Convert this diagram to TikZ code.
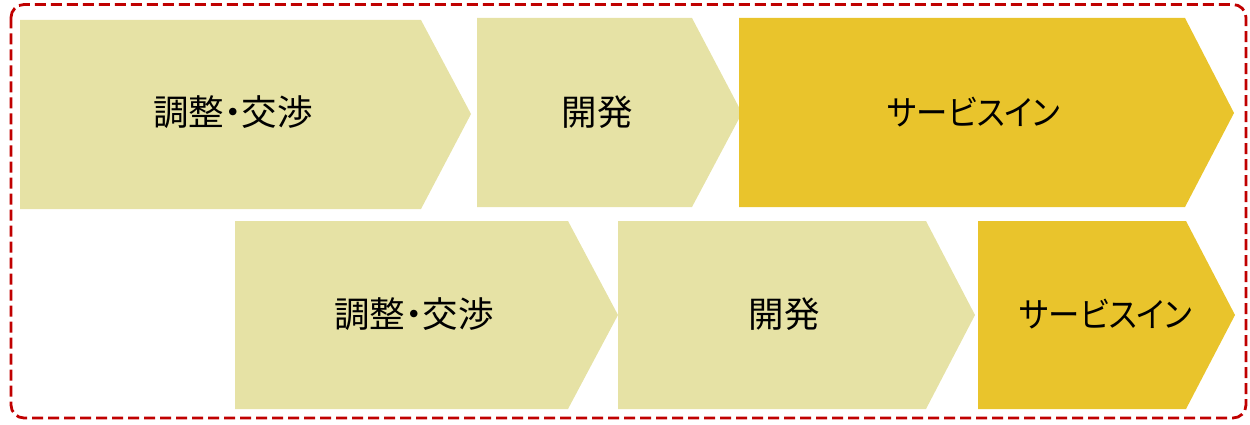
\documentclass[tikz,border=0pt]{standalone}
\usepackage{fontspec}
\newfontfamily\jpfont[RawFeature=+palt]{Noto Sans CJK JP}
\newfontfamily\kanafont[RawFeature=+palt, FakeStretch=0.91]{Noto Sans CJK JP}
\definecolor{lightstep}{RGB}{230,226,165}
\definecolor{darkstep}{RGB}{233,196,44}
\definecolor{framered}{RGB}{192,0,0}
\begin{document}
\begin{tikzpicture}[x=1pt,y=-1pt,
  kanjitext/.style={font=\jpfont\fontsize{35.5}{40}\selectfont, text=black, inner sep=0pt, anchor=center},
  katatext/.style={font=\kanafont\fontsize{34.5}{40}\selectfont, text=black, inner sep=0pt, anchor=center},
  frame/.style={draw=framered, line width=2.8pt, dash pattern=on 11pt off 5pt, rounded corners=13pt}]
\useasboundingbox (0,0) rectangle (1250,425);
\draw[frame] (11,4.5) rectangle (1246,418);
% row 1
\fill[lightstep] (20,20) -- (421,20) -- (471,114) -- (421,209) -- (20,209) -- cycle;
\fill[lightstep] (477,18) -- (692,18) -- (742,113) -- (692,207) -- (477,207) -- cycle;
\fill[darkstep] (739,18) -- (1185,18) -- (1234,113) -- (1185,207) -- (739,207) -- cycle;
% row 2
\fill[lightstep] (235,221) -- (568,221) -- (618,315) -- (568,409) -- (235,409) -- cycle;
\fill[lightstep] (618,221) -- (926,221) -- (975,315) -- (926,409) -- (618,409) -- cycle;
\fill[darkstep] (978,221) -- (1186,221) -- (1235,315) -- (1186,409) -- (978,409) -- cycle;
\node[kanjitext] (a1) at (233,112) {調整・交渉};
\node[kanjitext] (b1) at (597,112) {開発};
\node[katatext] (c1) at (974,112) {サービスイン};
\node[kanjitext] (a2) at (414,314) {調整・交渉};
\node[kanjitext] (b2) at (784,314) {開発};
\node[katatext] (c2) at (1106,314) {サービスイン};
\end{tikzpicture}
\end{document}
